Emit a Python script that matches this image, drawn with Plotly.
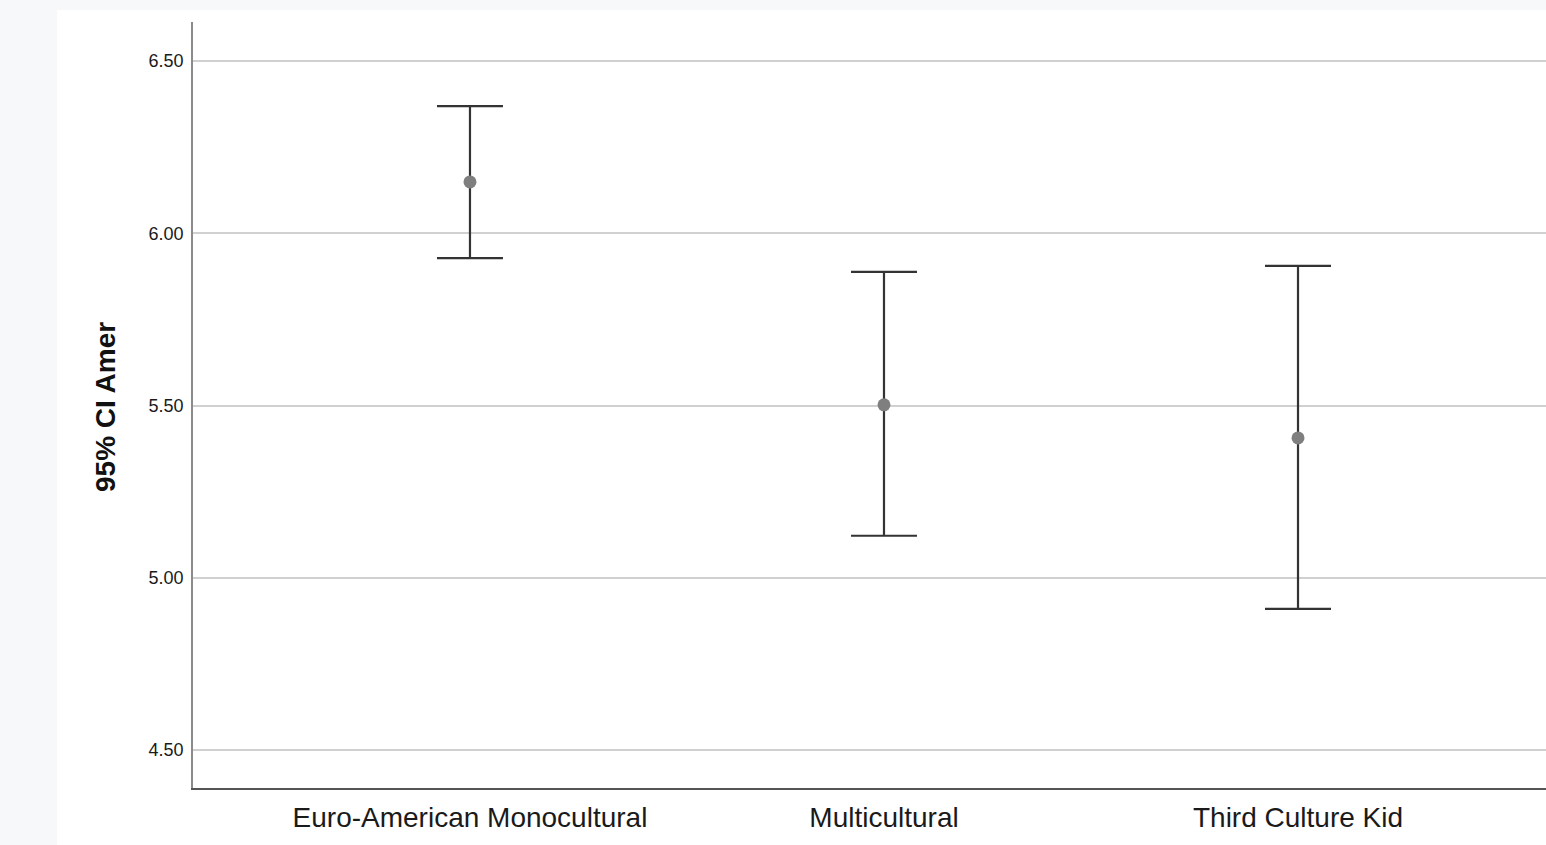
import plotly.graph_objects as go

categories = ["Euro-American Monocultural", "Multicultural", "Third Culture Kid"]
means = [6.149, 5.502, 5.406]
upper = [6.369, 5.888, 5.905]
lower = [5.928, 5.122, 4.910]
y_ticks = [4.50, 5.00, 5.50, 6.00, 6.50]

err_plus = [u - m for u, m in zip(upper, means)]
err_minus = [m - l for m, l in zip(means, lower)]

fig = go.Figure()
fig.add_trace(go.Scatter(
    x=categories, y=means, mode="markers",
    marker=dict(color="#7f7f7f", size=13),
    error_y=dict(type="data", symmetric=False, array=err_plus, arrayminus=err_minus,
                 color="#333333", thickness=2.2, width=33),
    showlegend=False, hoverinfo="skip",
))

W, H = 1546, 845
L, R, T, B = 193, 0, 22, 57
pw, ph = W - L - R, H - T - B

fig.add_shape(type="rect", xref="paper", yref="paper",
              x0=(57 - L) / pw, x1=1.05, y0=-0.2, y1=(H - B - 10) / ph,
              fillcolor="white", line=dict(width=0), layer="below")

fig.add_annotation(text="<b>95% CI Amer</b>", xref="paper", yref="paper",
                   x=(105 - L) / pw, y=(H - B - 407) / ph, textangle=-90,
                   showarrow=False, xanchor="center", yanchor="middle",
                   font=dict(family="Liberation Sans, Arial", size=28, color="#111111"))

fig.update_layout(
    width=W, height=H,
    margin=dict(l=L, r=R, t=T, b=B, pad=0),
    paper_bgcolor="#f7f8fa", plot_bgcolor="white",
    font=dict(family="Liberation Sans, Arial", color="#1a1a1a"),
    xaxis=dict(range=[-0.669, 2.599], showgrid=False, zeroline=False,
               showline=True, linecolor="#555555", linewidth=1.5,
               tickfont=dict(size=28, color="#1a1a1a"), ticks="",
               ticklabelstandoff=4),
    yaxis=dict(range=[4.39, 6.613], tickvals=y_ticks, tickformat=".2f",
               showgrid=True, gridcolor="#d0d0d0", gridwidth=1.5, zeroline=False,
               showline=True, linecolor="#8a8a8a", linewidth=1.5,
               tickfont=dict(size=18, color="#1a1a1a"), ticks="",
               ticklabelstandoff=4),
)

fig.write_html("out.html", config={"displayModeBar": False},
               post_script="document.body.style.margin='0';document.body.style.overflow='hidden';")
